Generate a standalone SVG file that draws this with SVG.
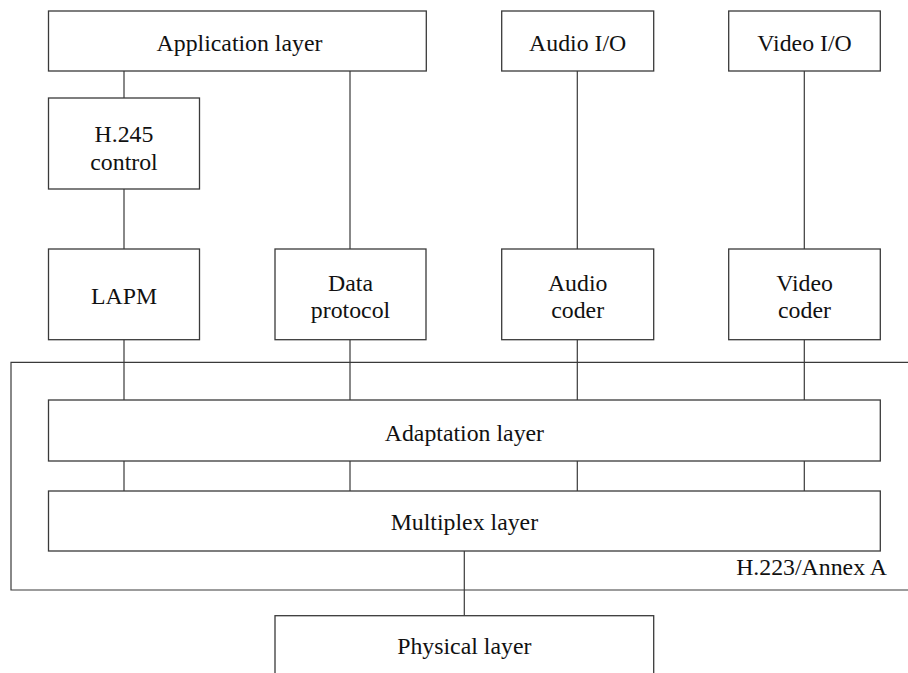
<svg xmlns="http://www.w3.org/2000/svg" width="908" height="673" viewBox="0 0 908 673">
<style>
.box{fill:#fff;stroke:#3a3a3a;stroke-width:1.3}
.ln{fill:none;stroke:#3a3a3a;stroke-width:1.2}
.t{font-family:'Liberation Serif','Times New Roman',serif;font-size:23.8px;fill:#111;text-anchor:middle}
</style>
<rect width="908" height="673" fill="#fff"/>
<g id="frame">
<path class="ln" d="M908,362.3 H11 V590 H908"/>
<text class="t" x="811.5" y="575">H.223/Annex A</text>
</g>
<g id="connectors">
<path class="ln" d="M124,71 V98 M124,189 V249 M124,339.7 V400 M124,461 V491"/>
<path class="ln" d="M350,71 V249 M350,339.7 V400 M350,461 V491"/>
<path class="ln" d="M577.3,71 V249 M577.3,339.7 V400 M577.3,461 V491"/>
<path class="ln" d="M804.3,71 V249 M804.3,339.7 V400 M804.3,461 V491"/>
<path class="ln" d="M464.3,551 V615.7"/>
</g>
<g id="app"><rect class="box" x="48.5" y="11" width="377.8" height="60"/><text class="t" x="239.5" y="50.7">Application layer</text></g>
<g id="audio-io"><rect class="box" x="501.7" y="11" width="152" height="60"/><text class="t" x="577.7" y="50.7">Audio I/O</text></g>
<g id="video-io"><rect class="box" x="728.7" y="11" width="151.6" height="60"/><text class="t" x="804.5" y="50.7">Video I/O</text></g>
<g id="h245"><rect class="box" x="48.5" y="98" width="151" height="91"/><text class="t" x="124" y="142.3">H.245</text><text class="t" x="124" y="170">control</text></g>
<g id="lapm"><rect class="box" x="48.5" y="249" width="151" height="90.7"/><text class="t" x="124" y="304.3">LAPM</text></g>
<g id="data"><rect class="box" x="275" y="249" width="151" height="90.7"/><text class="t" x="350.5" y="290.7">Data</text><text class="t" x="350.5" y="317.5">protocol</text></g>
<g id="audio-coder"><rect class="box" x="501.7" y="249" width="152" height="90.7"/><text class="t" x="577.7" y="290.7">Audio</text><text class="t" x="577.7" y="317.5">coder</text></g>
<g id="video-coder"><rect class="box" x="728.7" y="249" width="151.6" height="90.7"/><text class="t" x="804.5" y="290.7">Video</text><text class="t" x="804.5" y="317.5">coder</text></g>
<g id="adaptation"><rect class="box" x="48.5" y="400" width="831.8" height="61"/><text class="t" x="464.4" y="440.5">Adaptation layer</text></g>
<g id="multiplex"><rect class="box" x="48.5" y="491" width="831.8" height="60"/><text class="t" x="464.4" y="530">Multiplex layer</text></g>
<g id="physical"><rect class="box" x="275" y="615.7" width="378.7" height="62"/><text class="t" x="464.3" y="654.3">Physical layer</text></g>
</svg>
